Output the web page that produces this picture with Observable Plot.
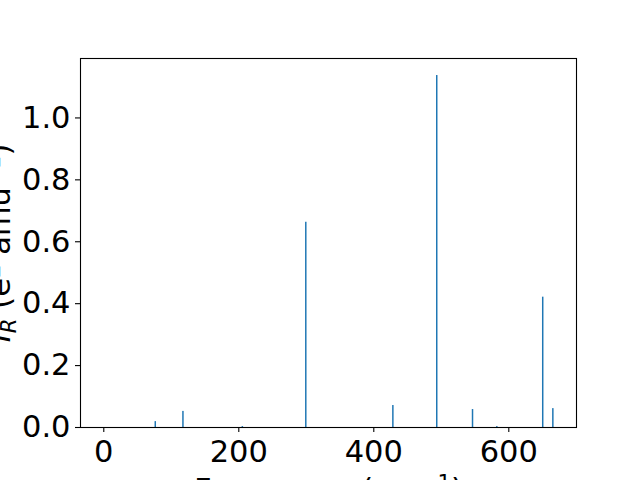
<!DOCTYPE html>
<html>
<head>
<meta charset="utf-8">
<script src="https://cdn.jsdelivr.net/npm/d3@7"></script>
<script src="https://cdn.jsdelivr.net/npm/@observablehq/plot@0.6"></script>
<style>
  html, body { margin: 0; padding: 0; background: white; overflow: hidden; }
</style>
</head>
<body>
<div id="chart"></div>
<script>
// Vibrational modes: frequency (cm^-1) and IR intensity (e^2 amu^-1)
const frequencies = [0, 77, 118, 206, 300, 429, 494, 547, 583, 651, 666];
const intensities = [0.0, 0.019, 0.052, 0.003, 0.663, 0.071, 1.137, 0.058, 0.003, 0.421, 0.061];
const xTicks = [0, 200, 400, 600];
const yTicks = [0.0, 0.2, 0.4, 0.6, 0.8, 1.0];
const xLabelRaw = "Frequency (cm^-1)";
const yLabelRaw = "I_R (e^2 amu^-1)";

const data = frequencies.map((f, i) => ({f, i: intensities[i]}));
const FS = 30.5;
const HALF = 1.1;

const chart = Plot.plot({
  width: 640,
  height: 480,
  marginLeft: 80,
  marginRight: 64,
  marginTop: 58,
  marginBottom: 53,
  style: {fontFamily: "DejaVu Sans", fontSize: FS + "px", background: "white", color: "black"},
  x: {domain: [-34.5, 700.3]},
  y: {domain: [0, 1.192]},
  marks: [
    Plot.rectY(data, {x1: d => d.f - HALF, x2: d => d.f + HALF, y1: 0, y2: "i", fill: "#1f77b4"}),
    Plot.frame({stroke: "black", strokeWidth: 1.1}),
    Plot.axisX({ticks: xTicks, tickSize: 5, tickPadding: 8, label: null, tickFormat: d => String(d), strokeWidth: 1.1}),
    Plot.axisY({ticks: yTicks, tickSize: 5, tickPadding: 5, label: null, tickFormat: d => d.toFixed(1), strokeWidth: 1.1}),
    Plot.text([xLabelRaw], {frameAnchor: "bottom", text: d => d, dy: 63, lineAnchor: "middle", textAnchor: "middle", fontSize: FS}),
    Plot.text([yLabelRaw], {frameAnchor: "left", text: d => d, rotate: -90, dx: -80, lineAnchor: "middle", textAnchor: "middle", fontSize: FS})
  ]
});
document.getElementById("chart").appendChild(chart);

const ns = "http://www.w3.org/2000/svg";
function rich(el, parts) {
  el.textContent = "";
  let shift = 0;
  for (const p of parts) {
    const ts = document.createElementNS(ns, "tspan");
    const target = p.sup ? -0.34 * FS : p.sub ? 0.2 * FS : 0;
    ts.setAttribute("dy", target - shift);
    shift = target;
    if (p.sup || p.sub) ts.setAttribute("font-size", 0.7 * FS);
    if (p.it) ts.setAttribute("font-style", "italic");
    ts.textContent = p.t;
    el.appendChild(ts);
  }
}
chart.querySelectorAll("text").forEach(el => {
  if (el.textContent === xLabelRaw) {
    rich(el, [{t: "Frequency (cm"}, {t: "\u22121", sup: true}, {t: ")"}]);
  } else if (el.textContent === yLabelRaw) {
    rich(el, [{t: "I", it: true}, {t: "R", it: true, sub: true}, {t: " (e"}, {t: "2", sup: true}, {t: " amu"}, {t: "\u22121", sup: true}, {t: ")"}]);
  }
});
</script>
</body>
</html>
